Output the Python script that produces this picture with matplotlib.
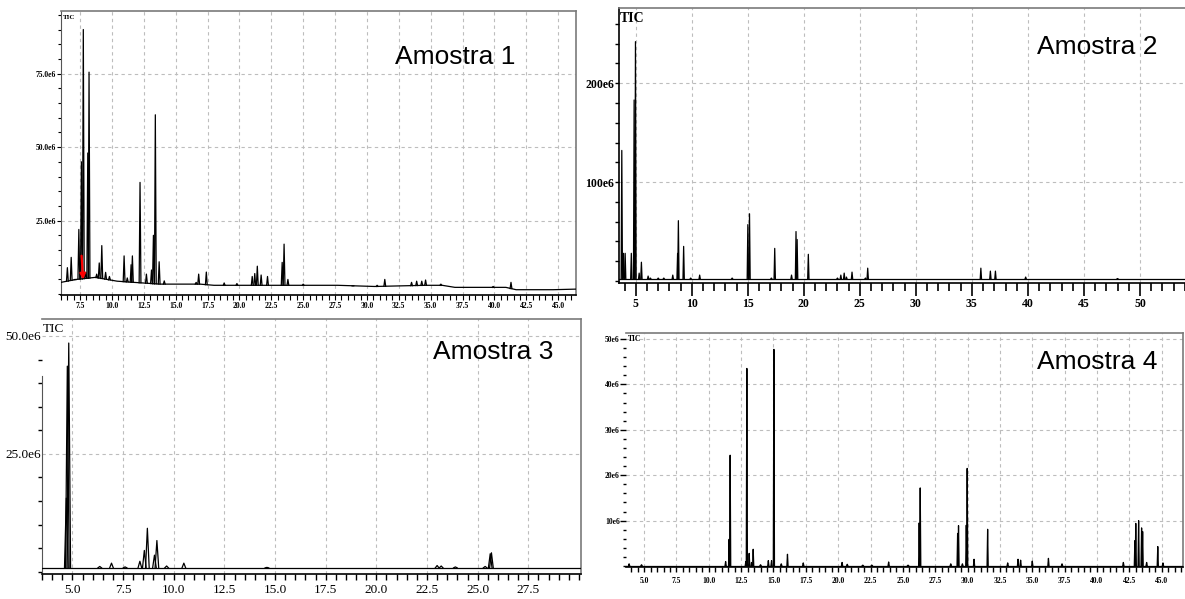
import numpy as np
import matplotlib.pyplot as plt
from matplotlib.ticker import MultipleLocator, FixedLocator, FixedFormatter

# ---- Amostra 1  (retention time in min, TIC in 1e6 counts)
a1_peak_t = [6.5, 6.8, 7.1, 7.4, 7.6, 7.75, 7.95, 8.1, 8.2, 8.8, 9.0, 9.2, 9.5, 9.8,
             10.95, 11.2, 11.5, 11.6, 12.2, 12.7, 13.1, 13.25, 13.4, 13.7, 14.1,
             16.6, 16.8, 17.4, 18.8, 19.8, 21.0, 21.2, 21.4, 21.7, 22.2, 23.35, 23.5,
             23.8, 25.0, 28.9, 30.8, 31.4, 33.5, 33.9, 34.3, 34.6, 35.8, 39.9, 41.3]
a1_peak_h = [9.0, 12.5, 5.0, 22.0, 45.0, 90.0, 7.4, 48.0, 75.5, 6.8, 10.6, 16.5, 7.4, 6.0,
             13.0, 5.5, 10.0, 13.0, 38.0, 6.8, 8.2, 20.0, 61.0, 11.0, 4.5,
             4.0, 6.8, 7.5, 3.8, 3.6, 6.0, 7.0, 9.5, 6.5, 6.0, 10.8, 17.0,
             5.0, 3.4, 2.8, 3.0, 5.0, 4.0, 4.4, 4.4, 4.8, 3.4, 2.6, 4.0]
a1_base_t = [6.0, 7.2, 8.7, 10.4, 11.7, 13.8, 16.9, 18.0, 20.8, 24.3, 27.7, 30.6,
             34.6, 35.9, 36.9, 40.9, 41.7, 44.6, 46.4]
a1_base_h = [4.0, 5.0, 5.7, 4.4, 4.0, 3.4, 3.4, 3.0, 3.0, 3.0, 3.0, 2.6,
             3.0, 3.0, 2.3, 2.3, 1.5, 1.5, 1.7]
a1_mark_t = [7.6, 7.75]
a1_mark_h = [14.0, 4.0]
a1_xticks = [7.5, 10.0, 12.5, 15.0, 17.5, 20.0, 22.5, 25.0, 27.5, 30.0, 32.5, 35.0,
             37.5, 40.0, 42.5, 45.0]
a1_yticks = [25.0, 50.0, 75.0]
a1_ylabels = ["25.0e6", "50.0e6", "75.0e6"]

# ---- Amostra 2
a2_peak_t = [3.75, 3.9, 4.05, 4.6, 4.85, 4.97, 5.3, 5.5, 6.1, 6.3, 7.0, 7.5, 8.3, 8.73,
             8.8, 9.27, 9.9, 10.7, 13.6, 15.0, 15.15, 17.1, 17.4, 18.9, 19.3, 19.4,
             20.4, 23.0, 23.3, 23.6, 23.8, 24.3, 25.5, 25.7, 35.8, 36.65, 37.1, 39.8, 48.0]
a2_peak_h = [132, 28, 28, 28, 183, 242, 8, 19, 5, 3, 3, 3, 6, 28,
             61, 35, 3, 6, 3, 57, 68, 3, 33, 6, 50, 42,
             27, 3, 6, 8, 4, 9, 3, 13, 13, 10, 10, 4, 2.5]
a2_base_t = [3.5, 54.2]
a2_base_h = [2.0, 2.0]
a2_xticks = [5, 10, 15, 20, 25, 30, 35, 40, 45, 50]
a2_yticks = [100, 200]
a2_ylabels = ["100e6", "200e6"]

# ---- Amostra 3
a3_peak_t = [4.70, 4.75, 4.82, 6.35, 6.93, 7.6, 8.33, 8.55, 8.7, 9.05, 9.17, 9.65, 10.5,
             14.6, 23.0, 23.2, 23.9, 25.37, 25.62, 25.68]
a3_peak_h = [15.6, 43.6, 48.5, 1.1, 1.8, 1.0, 2.2, 4.5, 9.2, 3.5, 6.6, 1.2, 1.8,
             0.9, 1.3, 1.2, 1.0, 1.1, 3.8, 4.0]
a3_base_t = [3.5, 30.1]
a3_base_h = [0.8, 0.8]
a3_xticks = [5.0, 7.5, 10.0, 12.5, 15.0, 17.5, 20.0, 22.5, 25.0, 27.5]
a3_yticks = [25.0, 50.0]
a3_ylabels = ["25.0e6", "50.0e6"]

# ---- Amostra 4
a4_peak_t = [3.84, 4.8, 11.3, 11.57, 11.65, 12.86, 12.94, 13.12, 13.3, 13.43, 14.0, 14.6,
             14.85, 15.03, 15.6, 16.08, 17.3, 20.3, 20.7, 21.9, 22.6, 23.9, 25.4, 26.26,
             26.34, 28.7, 29.23, 29.3, 29.6, 29.9, 29.97, 30.5, 31.55, 33.1, 33.9, 34.1,
             35.0, 36.25, 37.3, 42.04, 42.93, 43.0, 43.22, 43.45, 43.53, 43.84, 44.7, 45.1]
a4_peak_h = [0.5, 0.3, 1.0, 5.9, 24.4, 1.0, 43.5, 2.8, 0.8, 3.7, 0.3, 1.2,
             1.2, 47.7, 0.5, 2.6, 0.7, 0.8, 0.4, 0.2, 0.2, 0.9, 0.2, 9.5,
             17.2, 0.5, 7.2, 8.9, 0.5, 9.0, 21.5, 1.5, 8.1, 0.7, 1.5, 1.3,
             1.1, 1.7, 0.5, 0.8, 5.6, 9.4, 10.0, 8.4, 7.6, 0.8, 4.3, 0.7]
a4_base_t = [3.6, 46.65]
a4_base_h = [0.1, 0.1]
a4_xticks = [5.0, 7.5, 10.0, 12.5, 15.0, 17.5, 20.0, 22.5, 25.0, 27.5, 30.0, 32.5,
             35.0, 37.5, 40.0, 42.5, 45.0]
a4_yticks = [10, 20, 30, 40, 50]
a4_ylabels = ["10e6", "20e6", "30e6", "40e6", "50e6"]

W, H = 1185, 599
fig = plt.figure(figsize=(W / 100, H / 100), dpi=100)
SERIF = "Liberation Serif"


def box(left, top, right, bottom):
    return [left / W, 1 - bottom / H, (right - left) / W, (bottom - top) / H]


def chromatogram(ax, peak_t, peak_h, base_t, base_h, hw):
    ax.plot(base_t, np.array(base_h) * 1e6, color="black", lw=0.9, zorder=3)
    for t, h in zip(peak_t, peak_h):
        b = np.interp(t, base_t, base_h)
        ax.plot([t - hw, t, t + hw], np.array([b, h, b]) * 1e6,
                color="black", lw=0.9, zorder=3)


def frame(ax, xticks, xlabels, yticks, ylabels, xminor, yminor, fs, weight):
    ax.set_axisbelow(True)
    ax.xaxis.set_major_locator(FixedLocator(xticks))
    ax.xaxis.set_major_formatter(FixedFormatter(xlabels))
    ax.yaxis.set_major_locator(FixedLocator([v * 1e6 for v in yticks]))
    ax.yaxis.set_major_formatter(FixedFormatter(ylabels))
    ax.xaxis.set_minor_locator(MultipleLocator(xminor))
    ax.yaxis.set_minor_locator(MultipleLocator(yminor * 1e6))
    ax.grid(True, which="major", color="#bdbdbd", ls=(0, (3, 3)), lw=0.8)
    for lab in ax.get_xticklabels() + ax.get_yticklabels():
        lab.set_fontfamily(SERIF)
        lab.set_fontsize(fs)
        lab.set_fontweight(weight)
    for s in ("top", "right"):
        ax.spines[s].set_color("#7a7a7a")
        ax.spines[s].set_linewidth(1.2)
    ax.spines["left"].set_color("#555555")
    ax.spines["bottom"].set_color("black")
    ax.spines["bottom"].set_linewidth(1.2)


# Panel 1
ax1 = fig.add_axes(box(61, 11, 576, 295))
chromatogram(ax1, a1_peak_t, a1_peak_h, a1_base_t, a1_base_h, 0.07)
ax1.annotate("", xy=(a1_mark_t[1], a1_mark_h[1] * 1e6), xytext=(a1_mark_t[0], a1_mark_h[0] * 1e6),
             arrowprops=dict(arrowstyle="-|>", color="red", lw=1.6, mutation_scale=8), zorder=4)
ax1.set_xlim(6.0, 46.4)
ax1.set_ylim(-0.3e6, 96.3e6)
frame(ax1, a1_xticks, [f"{v:.1f}" for v in a1_xticks], a1_yticks, a1_ylabels, 0.5, 5, 5.5, "bold")
ax1.tick_params(axis="x", which="both", length=3.6, width=0.8, pad=1.5)
ax1.tick_params(axis="y", which="major", length=3, width=0.8, pad=0.5)
ax1.tick_params(axis="y", which="minor", length=2.2, width=0.8)
ax1.text(0.003, 0.985, "TIC", transform=ax1.transAxes, ha="left", va="top",
         fontsize=5, fontfamily=SERIF, fontweight="bold")

# Panel 2
ax2 = fig.add_axes(box(619, 8, 1187, 283))
chromatogram(ax2, a2_peak_t, a2_peak_h, a2_base_t, a2_base_h, 0.06)
ax2.set_xlim(3.5, 54.2)
ax2.set_ylim(-2e6, 276e6)
frame(ax2, a2_xticks, [str(v) for v in a2_xticks], a2_yticks, a2_ylabels, 1, 20, 8.5, "bold")
ax2.tick_params(axis="x", which="major", length=9, width=1.2, pad=2)
ax2.tick_params(axis="x", which="minor", length=6, width=1.2)
ax2.tick_params(axis="y", which="major", length=3, width=1, pad=0.5)
ax2.tick_params(axis="y", which="minor", length=3, width=1)
ax2.spines["left"].set_color("black")
ax2.spines["left"].set_linewidth(1.2)
ax2.text(0.002, 0.985, "TIC", transform=ax2.transAxes, ha="left", va="top",
         fontsize=10, fontfamily=SERIF, fontweight="bold")

# Panel 3
ax3 = fig.add_axes(box(42, 319, 581, 574))
chromatogram(ax3, a3_peak_t, a3_peak_h, a3_base_t, a3_base_h, 0.09)
ax3.set_xlim(3.5, 30.1)
ax3.set_ylim(-0.5e6, 53.6e6)
frame(ax3, a3_xticks, [f"{v:.1f}" for v in a3_xticks], a3_yticks, a3_ylabels, 0.5, 5, 9.5, "normal")
ax3.spines["left"].set_bounds(-0.5e6, 41.5e6)
ax3.tick_params(axis="x", which="both", length=4.5, width=1, pad=3)
ax3.tick_params(axis="y", which="major", length=0, pad=0.5)
ax3.tick_params(axis="y", which="minor", length=3, width=1)
ax3.text(0.002, 0.985, "TIC", transform=ax3.transAxes, ha="left", va="top",
         fontsize=9.5, fontfamily=SERIF)

# Panel 4
ax4 = fig.add_axes(box(626, 333, 1183, 567))
chromatogram(ax4, a4_peak_t, a4_peak_h, a4_base_t, a4_base_h, 0.045)
ax4.set_xlim(3.6, 46.65)
ax4.set_ylim(-0.2e6, 51.3e6)
frame(ax4, a4_xticks, [f"{v:.1f}" for v in a4_xticks], a4_yticks, a4_ylabels, 0.5, 2, 5.5, "bold")
ax4.spines["left"].set_visible(False)
ax4.tick_params(axis="x", which="both", length=3.5, width=1, pad=4)
ax4.tick_params(axis="y", which="major", length=4, width=1, pad=0.5)
ax4.tick_params(axis="y", which="minor", length=2, width=1)
ax4.text(0.004, 0.99, "TIC", transform=ax4.transAxes, ha="left", va="top",
         fontsize=5.5, fontfamily=SERIF, fontweight="bold")

# sample captions
for x, y, name in [(395, 57, "Amostra 1"), (1037, 47, "Amostra 2"),
                   (433, 352, "Amostra 3"), (1037, 362, "Amostra 4")]:
    fig.text(x / W, 1 - y / H, name, ha="left", va="center",
             fontsize=19, fontfamily="Liberation Sans")

fig.savefig("out.png", dpi=100)
